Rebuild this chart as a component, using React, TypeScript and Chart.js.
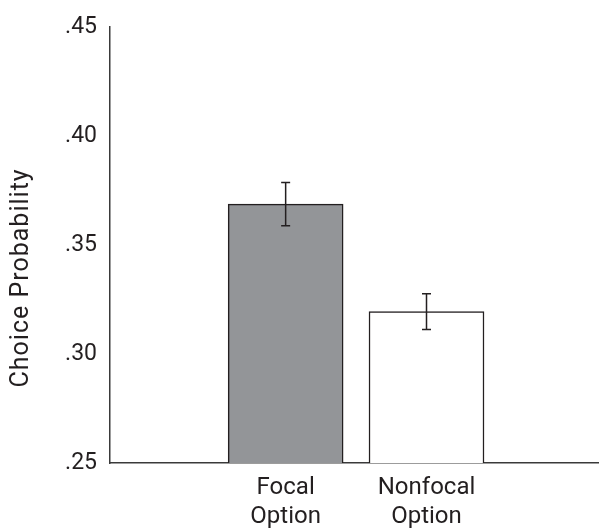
import React, { useEffect, useRef } from "react";
import { Chart, registerables } from "chart.js";

Chart.register(...registerables);

const categories: string[][] = [["Focal", "Option"], ["Nonfocal", "Option"]];
const categoryPositions = [1, 2];
const values = [0.3687, 0.3194];
const errors = [0.0099, 0.0082];
const barColors = ["#939598", "#ffffff"];
const yTickValues = [0.25, 0.3, 0.35, 0.4, 0.45];
const yTickLabels = [".25", ".30", ".35", ".40", ".45"];
const yTitle = "Choice Probability";

const FONT = "Roboto, 'Liberation Sans', sans-serif";
const INK = "#231f20";

const errorBarPlugin = {
  id: "errorBars",
  afterDatasetsDraw(chart: any) {
    const ctx = chart.ctx;
    const yScale = chart.scales.y;
    const meta = chart.getDatasetMeta(0);
    ctx.save();
    ctx.strokeStyle = INK;
    ctx.lineWidth = 1.5;
    meta.data.forEach((bar: any, i: number) => {
      const x = bar.x;
      const yTop = yScale.getPixelForValue(values[i] + errors[i]);
      const yBot = yScale.getPixelForValue(values[i] - errors[i]);
      const cap = 4.5;
      ctx.beginPath();
      ctx.moveTo(x, yTop);
      ctx.lineTo(x, yBot);
      ctx.moveTo(x - cap, yTop);
      ctx.lineTo(x + cap, yTop);
      ctx.moveTo(x - cap, yBot);
      ctx.lineTo(x + cap, yBot);
      ctx.stroke();
    });
    ctx.restore();
  },
};

const yTitlePlugin = {
  id: "yTitle",
  afterDraw(chart: any) {
    const ctx = chart.ctx;
    const area = chart.chartArea;
    ctx.save();
    ctx.fillStyle = INK;
    ctx.font = `25px ${FONT}`;
    try {
      (ctx as any).letterSpacing = "1px";
    } catch (e) {}
    ctx.textAlign = "center";
    ctx.textBaseline = "middle";
    ctx.translate(22, (area.top + area.bottom) / 2 + 33);
    ctx.rotate(-Math.PI / 2);
    ctx.fillText(yTitle, 0, 0);
    ctx.restore();
  },
};

export default function App() {
  const ref = useRef<HTMLCanvasElement | null>(null);
  useEffect(() => {
    if (!ref.current) return;
    const chart = new Chart(ref.current, {
      type: "bar",
      data: {
        datasets: [
          {
            data: categoryPositions.map((x, i) => ({ x, y: values[i] })),
            backgroundColor: barColors,
            borderColor: INK,
            borderWidth: 1.5,
            barThickness: 115,
            base: 0.25,
          } as any,
        ],
      },
      options: {
        responsive: false,
        animation: false,
        layout: { padding: { left: 0, right: 0, top: 24, bottom: 0 } },
        plugins: {
          legend: { display: false },
          tooltip: { enabled: false },
        },
        scales: {
          x: {
            type: "linear",
            min: -0.247,
            max: 3.2246,
            offset: false,
            grid: { display: false, drawTicks: false, offset: false },
            border: { display: true, color: "#3a3a3a", width: 1.5 },
            afterBuildTicks: (scale: any) => {
              scale.ticks = categoryPositions.map((v) => ({ value: v }));
            },
            afterFit: (scale: any) => {
              scale.height = 69;
            },
            ticks: {
              padding: 11,
              color: INK,
              font: { family: FONT, size: 24, lineHeight: 1.2 },
              callback: (_v: any, i: number) => categories[i],
              autoSkip: false,
              maxRotation: 0,
            },
          },
          y: {
            type: "linear",
            min: 0.25,
            max: 0.45,
            grid: { display: false, drawTicks: false },
            border: { display: true, color: "#3a3a3a", width: 1.5 },
            afterBuildTicks: (scale: any) => {
              scale.ticks = yTickValues.map((v) => ({ value: v }));
            },
            afterFit: (scale: any) => {
              scale.width = 110;
            },
            ticks: {
              padding: 13,
              color: INK,
              font: { family: FONT, size: 23 },
              callback: (_v: any, i: number) => yTickLabels[i],
            },
          },
        },
      },
      plugins: [errorBarPlugin, yTitlePlugin],
    });
    return () => chart.destroy();
  }, []);
  return (
    <div style={{ position: "absolute", left: 0, top: 0, width: 599, height: 532, background: "#fff" }}>
      <canvas ref={ref} width={599} height={532} />
    </div>
  );
}
